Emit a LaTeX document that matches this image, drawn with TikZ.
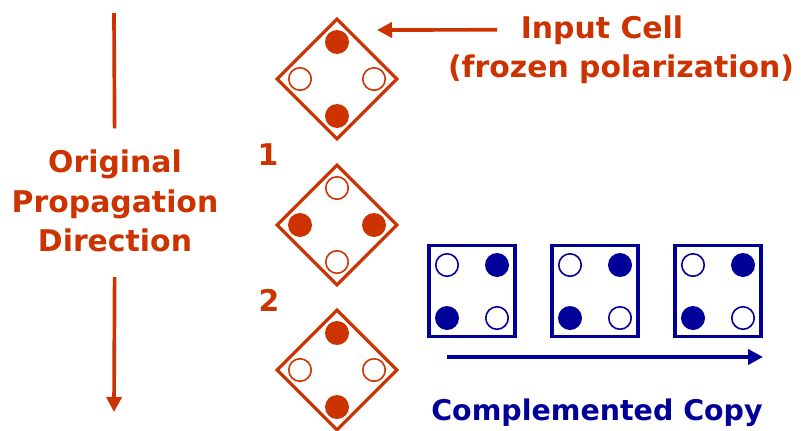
\documentclass[tikz,border=0pt]{standalone}
\usepackage{fontspec}
\setmainfont{DejaVu Sans}
\usetikzlibrary{positioning,arrows.meta,shapes.geometric}

\definecolor{cellred}{HTML}{CC3300}
\definecolor{copyblue}{HTML}{000099}

\begin{document}
\begin{tikzpicture}[
  x=0.02cm, y=-0.02cm,
  font=\bfseries\fontsize{17}{22.5}\selectfont, >={Triangle[length=0.3cm,width=0.3cm]},
  cell/.style={diamond, aspect=1, draw, line width=1.8pt, minimum size=2.42cm, inner sep=0pt},
  copycell/.style={draw, line width=1.9pt, minimum width=1.72cm, minimum height=1.78cm, inner sep=0pt},
  dotfull/.style={circle, fill, minimum size=0.48cm, inner sep=0pt},
  dotopen/.style={circle, draw, line width=0.9pt, fill=white, minimum size=0.45cm, inner sep=0pt},
  flow/.style={->, line width=2.1pt},
]
  \useasboundingbox (0,0) rectangle (808,430);

  % input cell and the chain below it
  \begin{scope}[color=cellred]
    \foreach \n/\y/\v/\h in {0/79/dotfull/dotopen, 1/225/dotopen/dotfull, 2/370/dotfull/dotopen} {
      \node[cell] (c\n) at (337,\y) {};
      \node[\v] (c\n-t) at (337,\y-37) {};
      \node[\v] (c\n-b) at (337,\y+37) {};
      \node[\h] (c\n-l) at (300,\y) {};
      \node[\h] (c\n-r) at (374,\y) {};
    }
    \node (n1) at (268,155) {1};
    \node (n2) at (269,300) {2};

    % input label
    \node[anchor=base] (incell) at (602,38) {Input Cell};
    \node[anchor=base] (frozen) at (621,77) {(frozen polarization)};
    \coordinate (intip) at (377,30);
    \draw[flow, shorten <=10pt] (incell.west) -- (intip);

    % propagation direction
    \coordinate (dtop) at (114,13);
    \coordinate (dtip) at (114,412);
    \node[align=center, inner sep=8pt] (dir) at (115,201) {Original\\Propagation\\Direction};
    \draw[line width=2.1pt, shorten >=4pt] (dtop) -- (dir);
    \draw[flow, shorten <=6pt] (dir) -- (dtip);
  \end{scope}

  % complemented copy
  \begin{scope}[color=copyblue]
    \foreach \n/\x in {0/472, 1/595, 2/718} {
      \node[copycell, minimum height=1.82cm] (q\n) at (\x,291) {};
      \node[dotopen] (q\n-tl) at (\x-25,265) {};
      \node[dotfull] (q\n-tr) at (\x+25,265) {};
      \node[dotfull] (q\n-bl) at (\x-25,318) {};
      \node[dotopen] (q\n-br) at (\x+25,318) {};
    }
    \coordinate (cstart) at (447,357);
    \coordinate (cend) at (763,357);
    \draw[flow] (cstart) -- (cend);
    \node[anchor=base, font=\bfseries\fontsize{16.2}{20}\selectfont] (copy) at (597,420) {Complemented Copy};
  \end{scope}
\end{tikzpicture}
\end{document}
